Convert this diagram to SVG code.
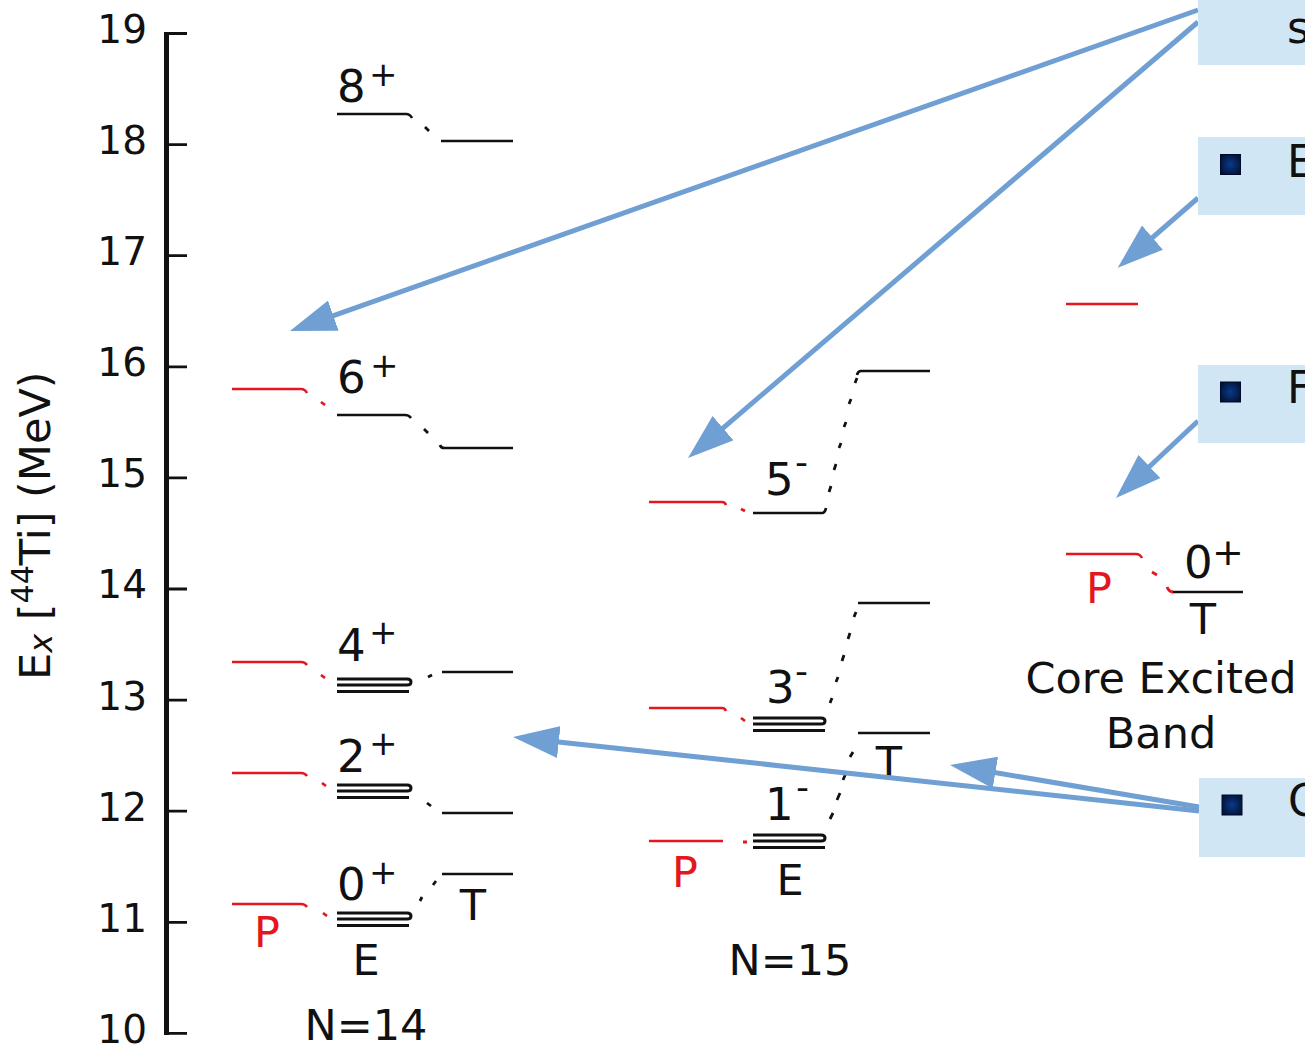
<svg xmlns="http://www.w3.org/2000/svg" width="1305" height="1048" viewBox="0 0 1305 1048">
<style>
.lv{stroke:#111;stroke-width:2.7;fill:none}
.tr{stroke:#111;stroke-width:3;fill:none}
.rd{stroke:#e3171e;stroke-width:2.6;fill:none}
.t{font-family:"DejaVu Sans",Verdana,sans-serif;fill:#111;font-size:43px}
.n{font-size:45px}
.sup{font-size:34px}
.mn{font-size:36px}
.r{fill:#e3171e}
.m{text-anchor:middle}
.tick{font-family:"DejaVu Sans",Verdana,sans-serif;font-size:39px;fill:#111;text-anchor:end}
.dots{stroke-width:2.8;fill:none}
.arr{stroke:#709fd3;stroke-width:5;fill:none;marker-end:url(#ah)}
.box{fill:#d0e6f4}
.bul{fill:url(#bg);stroke:#000a26;stroke-width:1}
</style>
<defs>
<marker id="ah" markerUnits="userSpaceOnUse" markerWidth="46" markerHeight="32" refX="38" refY="16" orient="auto" viewBox="0 0 46 32">
<path d="M0,0 L46,16 L0,32 z" fill="#709fd3"/>
</marker>
<radialGradient id="bg" cx="0.5" cy="0.5" r="0.6">
<stop offset="0" stop-color="#0b3a8a"/>
<stop offset="1" stop-color="#001233"/>
</radialGradient>
</defs>
<rect width="1305" height="1048" fill="#fff"/>

<g id="axis">
<line x1="166.5" y1="32" x2="166.5" y2="1035" stroke="#111" stroke-width="5"/>
<path d="M166,33.5 H187 M166,144.6 H187 M166,255.7 H187 M166,366.8 H187 M166,477.9 H187 M166,589 H187 M166,700.1 H187 M166,811.2 H187 M166,922.3 H187 M166,1033.4 H187" stroke="#111" stroke-width="2.8"/>
<text class="tick" x="147" y="43">19</text>
<text class="tick" x="147" y="154">18</text>
<text class="tick" x="147" y="265">17</text>
<text class="tick" x="147" y="376">16</text>
<text class="tick" x="147" y="487">15</text>
<text class="tick" x="147" y="598">14</text>
<text class="tick" x="147" y="710">13</text>
<text class="tick" x="147" y="821">12</text>
<text class="tick" x="147" y="932">11</text>
<text class="tick" x="147" y="1043">10</text>
<text class="t" transform="translate(50,680) rotate(-90)" style="font-size:43px">E<tspan style="font-size:32px;font-style:italic" dy="2">x</tspan><tspan dy="-2"> [</tspan><tspan style="font-size:30px" dy="-17">44</tspan><tspan dy="17">Ti] (MeV)</tspan></text>
</g>

<g id="n14-8plus">
<path class="lv" d="M337,114 H406 Q410,114 412,118"/>
<path class="lv" d="M441,141 H513"/>
<text class="t n" x="337" y="102">8</text><text class="t sup" x="369" y="86">+</text>
</g>
<g id="n14-6plus">
<path class="rd" d="M232,389 H301 Q305,389 307,393"/>
<path class="lv" d="M337,415 H405 Q409,415 411,418"/>
<path class="lv" d="M440,445 Q441,448 444,448 H513"/>
<text class="t n" x="337" y="393">6</text><text class="t sup" x="370" y="377">+</text>
</g>
<g id="n14-4plus">
<path class="rd" d="M232,662 H301 Q305,662 307,665"/>
<path class="tr" d="M337,679 H407 Q411,679 411,682 Q411,685 407,685 H337 M337,691.5 H409"/>
<path class="lv" d="M442,672 H513"/>
<text class="t n" x="337" y="661">4</text><text class="t sup" x="369" y="644">+</text>
</g>
<g id="n14-2plus">
<path class="rd" d="M232,773 H301 Q305,773 307,776"/>
<path class="tr" d="M337,785 H407 Q411,785 411,788 Q411,791 407,791 H337 M337,797.5 H409"/>
<path class="lv" d="M442,813 H513"/>
<text class="t n" x="337" y="772">2</text><text class="t sup" x="369" y="755">+</text>
</g>
<g id="n14-0plus">
<path class="rd" d="M232,904 H301 Q305,904 307,907"/>
<path class="tr" d="M337,913 H407 Q411,913 411,916 Q411,919 407,919 H337 M337,925.5 H409"/>
<path class="lv" d="M442,874 H513"/>
<text class="t n" x="337" y="900">0</text><text class="t sup" x="369" y="884">+</text>
<text class="t r m" x="267" y="947">P</text>
<text class="t m" x="473" y="920">T</text>
<text class="t m" x="366" y="975">E</text>
</g>
<g id="n14-label"><text class="t m" x="366" y="1040">N=14</text></g>

<g id="n15-5minus">
<path class="rd" d="M649,502 H722 Q725,502 726,505"/>
<path class="lv" d="M753,513 H822 Q825,513 826,508"/>
<path class="lv" d="M857,375 Q858,371 861,371 H930"/>
<text class="t n" x="765" y="495">5</text><text class="t mn" x="795" y="474">-</text>
</g>
<g id="n15-3minus">
<path class="rd" d="M649,708 H722 Q725,708 726,711"/>
<path class="tr" d="M753,718 H821 Q825,718 825,721 Q825,724 821,724 H753 M753,730.5 H825"/>
<path class="lv" d="M858,603 H930"/>
<text class="t n" x="766" y="703">3</text><text class="t mn" x="795" y="683">-</text>
</g>
<g id="n15-1minus">
<path class="rd" d="M649,841 H723"/>
<path class="tr" d="M753,835 H821 Q825,835 825,838 Q825,841 821,841 H753 M753,847.5 H825"/>
<path class="lv" d="M858,733 H930"/>
<text class="t n" x="765" y="820">1</text><text class="t mn" x="796" y="799">-</text>
<text class="t r m" x="685" y="887">P</text>
<text class="t m" x="790" y="895">E</text>
<text class="t m" x="889" y="777">T</text>
</g>
<g id="n15-label"><text class="t m" x="790" y="975">N=15</text></g>

<g id="core-band">
<path class="rd" d="M1066,304 H1138"/>
<path class="rd" d="M1066,554 H1136 Q1140,554 1142,558"/>
<path class="lv" d="M1172,592 H1243"/>
<text class="t n" x="1184" y="578">0</text><text class="t" style="font-size:38px" x="1212" y="565">+</text>
<text class="t r m" x="1099" y="603">P</text>
<text class="t m" x="1203" y="634">T</text>
<text class="t m" x="1161" y="693">Core Excited</text>
<text class="t m" x="1161" y="748">Band</text>
</g>

<g id="connectors">
<path class="dots" stroke="#e3171e" d="M321,402 L325,405 M321,675 L325,678 M322,783 L326,786 M323,913 L327,916 M741,509 L745,511 M741,718 L745,721 M743,842 L747,842 M1152,572 L1157,575 M1167,587 Q1169,592 1173,592"/>
<path class="dots" stroke="#111" d="M425,127 L429,131 M424,429 L428,433 M428,677 L432,675 M427,803 L431,806 M420,901 L422,897 M433,885 L436,881 M829,492 L831,486 M834,470 L836,464 M839,448 L841,443 M844,427 L846,422 M849,404 L851,399 M855,383 L857,378 M830,703 L832,698 M836,682 L838,677 M842,661 L844,655 M848,639 L850,633 M854,617 L856,612 M830,819 L833,813 M837,800 L840,793 M843,780 L846,773 M850,757 L853,752"/>
<line class="arr" x1="1198" y1="10" x2="297.5" y2="328.3"/>
<line class="arr" x1="1198" y1="22" x2="694.1" y2="452.8"/>
<line class="arr" x1="1198" y1="198" x2="1123.8" y2="262.5"/>
<line class="arr" x1="1198" y1="421" x2="1121.8" y2="492.5"/>
<line class="arr" x1="1199" y1="811" x2="521" y2="737.9"/>
<line class="arr" x1="1199" y1="807" x2="957.9" y2="766.3"/>
</g>

<g id="callout-1">
<rect class="box" x="1198" y="0" width="120" height="65"/>
<text class="t" x="1287" y="43" style="font-size:44px">s</text>
</g>
<g id="callout-2">
<rect class="box" x="1198" y="137" width="120" height="78"/>
<rect class="bul" x="1220.5" y="154.5" width="20" height="20"/>
<text class="t" x="1287" y="177" style="font-size:44px">E</text>
</g>
<g id="callout-3">
<rect class="box" x="1198" y="365" width="120" height="78"/>
<rect class="bul" x="1220.5" y="382" width="20" height="20"/>
<text class="t" x="1287" y="403" style="font-size:44px">F</text>
</g>
<g id="callout-4">
<rect class="box" x="1199" y="778" width="120" height="79"/>
<rect class="bul" x="1222" y="795" width="20" height="20"/>
<text class="t" x="1288" y="816" style="font-size:44px">C</text>
</g>
</svg>
